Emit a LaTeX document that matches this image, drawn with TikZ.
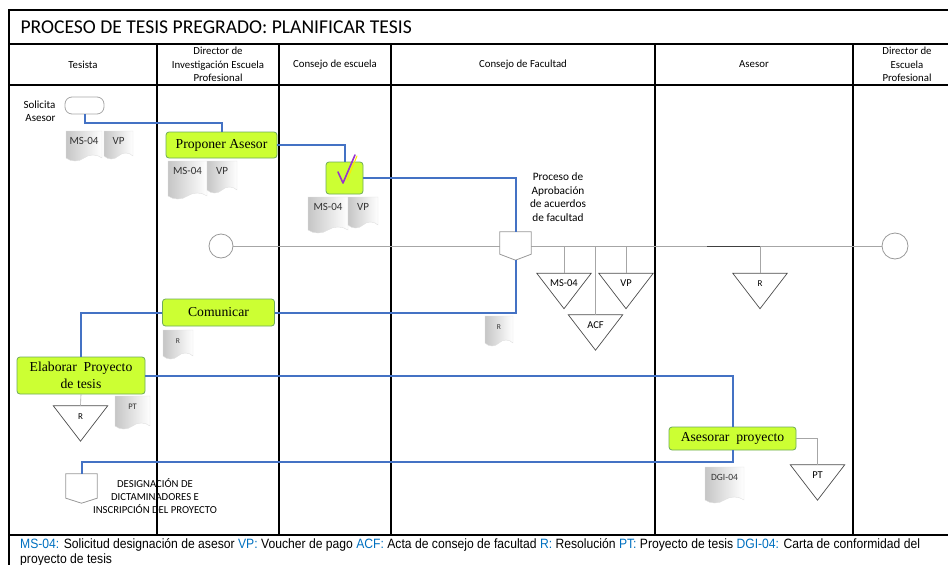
\documentclass[tikz,border=0pt]{standalone}
\usepackage{fontspec}
\setmainfont{Carlito}
\newfontfamily\boxfont{Liberation Serif}
\newfontfamily\notefont[FakeStretch=0.9]{Liberation Sans}
\usetikzlibrary{shapes.symbols,positioning,calc}

\definecolor{flowblue}{RGB}{68,114,196}
\definecolor{actfill}{RGB}{204,255,51}
\definecolor{actline}{RGB}{110,170,90}
\definecolor{codeblue}{RGB}{0,112,192}
\definecolor{checkpurple}{RGB}{153,51,204}

\begin{document}
\begin{tikzpicture}[
    x=1pt, y=-1pt,
    lane/.style={line width=1.4pt, black},
    act/.style={draw=actline, fill=actfill, rounded corners=3pt, line width=0.8pt, inner sep=0pt,
        font=\boxfont\fontsize{13.7}{17}\selectfont, align=center},
    flow/.style={flowblue, line width=2pt},
    thinline/.style={gray!70, line width=0.6pt},
    doc/.style 2 args={shape=tape, tape bend top=none, tape bend height=6pt, draw=gray!25,
        left color=gray!45, right color=white, inner sep=0pt, text=black!80,
        minimum width=#1pt, text height=13pt, text depth={#2pt-13pt},
        font=\fontsize{11}{11}\selectfont},
    tri/.style={minimum width=54pt, minimum height=35pt, inner sep=0pt,
        text height=13pt, text depth=22pt, font=\fontsize{10.5}{11}\selectfont},
    triline/.style={draw=black!70, line width=0.7pt},
    lanehead/.style={font=\fontsize{10.8}{13.5}\selectfont, align=center},
    small/.style={font=\fontsize{11.3}{13.5}\selectfont, align=center}
]
\useasboundingbox (0,0) rectangle (948,565);

% Frame and lanes
\draw[lane] (948,10) -- (9,10) -- (9,565);
\draw[lane] (9,44) -- (948,44);
\draw[lane] (9,85) -- (948,85);
\draw[lane] (9,535) -- (948,535);
\foreach \x in {157,279,391,655,853} {
    \draw[lane] (\x,44) -- (\x,535);
}

% Title
\node[anchor=west, font=\fontsize{19.6}{21}\selectfont] (title) at (17,27) {PROCESO DE TESIS PREGRADO: PLANIFICAR TESIS};

% Lane headers
\node[lanehead] (hTes) at (83,64.5) {Tesista};
\node[lanehead] (hDir) at (218,64.5) {Director de\\Investigación Escuela\\Profesional};
\node[lanehead] (hCes) at (335,64.5) {Consejo de escuela};
\node[lanehead] (hCfa) at (523,64.5) {Consejo de Facultad};
\node[lanehead] (hAse) at (754,64.5) {Asesor};
\node[lanehead] (hDep) at (907,64.5) {Director de\\Escuela\\Profesional};

% Timeline
\node[circle, draw=gray!80, line width=0.8pt, minimum size=24pt, inner sep=0pt] (circL) at (221,246) {};
\node[circle, draw=gray!80, line width=0.8pt, minimum size=26pt, inner sep=0pt] (circR) at (895,246) {};
\draw[thinline] (circL.east) -- (circR.west);

% Start
\node[draw=gray!70, line width=0.8pt, rounded corners=7pt, minimum width=39pt, minimum height=17pt] (start) at (84.5,105.5) {};
\node[small, anchor=east, align=right, font=\fontsize{11}{13}\selectfont] (solicita) at (59,111) {Solicita\\Asesor};

% Activities
\node[act, minimum width=111pt, minimum height=26pt] (prop) at (221.5,145) {Proponer Asesor};
\node[act, minimum width=37pt, minimum height=32pt] (chk) at (344.5,178) {};
\node[act, minimum width=112pt, minimum height=27pt] (comu) at (218.5,312.5) {Comunicar};
\node[act, minimum width=128pt, minimum height=37pt] (elab) at (81,375.5) {Elaborar\ \ Proyecto\\de tesis};
\node[act, minimum width=127pt, minimum height=23pt] (ases) at (732.5,438.5) {Asesorar\ \ proyecto};

% Check mark
\draw[yellow!90!orange, line width=1pt, line cap=round] (347,180) -- (357,156);
\draw[checkpurple, line width=1.6pt, line cap=round, line join=round] (338,172) -- (343,183) -- (355,155);

% Off-page connectors
\node[minimum width=31pt, minimum height=28pt, inner sep=0pt] (offp) at (515.5,246) {};
\draw[gray!80, fill=white, line width=0.8pt] (offp.north west) -- (offp.north east) -- ([yshift=6pt]offp.south east)
    -- (offp.south) -- ([yshift=6pt]offp.south west) -- cycle;
\node[minimum width=31pt, minimum height=29pt, inner sep=0pt] (desig) at (81.5,488.5) {};
\draw[gray!80, fill=white, line width=0.8pt] (desig.north west) -- (desig.north east) -- ([yshift=5pt]desig.south east)
    -- (desig.south) -- ([yshift=5pt]desig.south west) -- cycle;

\node[small] (procTxt) at (558,197) {Proceso de\\Aprobación\\de acuerdos\\de facultad};
\node[font=\fontsize{10.7}{13}\selectfont, align=center] (desigTxt) at (155,496) {DESIGNACIÓN DE\\DICTAMINADORES E\\INSCRIPCIÓN DEL PROYECTO};

% Documents
\node[doc={36}{24}] (dMSa) at (84,143) {MS-04};
\node[doc={29}{22}] (dVPa) at (118.5,142) {VP};
\node[doc={39}{32}] (dMSb) at (187.5,177) {MS-04};
\node[doc={30}{26}] (dVPb) at (222,174) {VP};
\node[doc={40}{30}] (dMSc) at (328,212) {MS-04};
\node[doc={30}{25}] (dVPc) at (363,209.5) {VP};
\node[doc={28}{24}, font=\fontsize{7.5}{8}\selectfont] (dRa) at (499,328) {R};
\node[doc={30}{23}, font=\fontsize{7.5}{8}\selectfont] (dRb) at (178,341.5) {R};
\node[doc={35}{27}, font=\fontsize{8.5}{9}\selectfont] (dPT) at (132.5,409.5) {PT};
\node[doc={39}{30}, font=\fontsize{9.5}{10}\selectfont] (dDGI) at (724.5,482) {DGI-04};

% Archives (triangles)
\node[tri] (trMS) at (564,291) {MS-04};
\node[tri] (trVP) at (626,291) {VP};
\node[tri] (trACF) at (595.5,332.5) {ACF};
\node[tri, font=\fontsize{9}{9}\selectfont] (trRb) at (760,291) {R};
\node[tri, font=\fontsize{9}{9}\selectfont] (trRa) at (80.5,423.5) {R};
\node[tri] (trPT) at (817.5,482.5) {PT};
\foreach \t in {trMS,trVP,trACF,trRb,trRa,trPT} {
    \draw[triline] (\t.north west) -- (\t.north east) -- (\t.south) -- cycle;
}

% Archive links
\foreach \t in {trMS,trVP,trACF} {
    \draw[thinline] (\t.north |- circL.center) -- (\t.north);
}
\coordinate (rsplit) at (707,246);
\draw[black!75, line width=0.7pt] (rsplit) -- (trRb.north |- rsplit);
\draw[thinline] (trRb.north |- rsplit) -- (trRb.north);
\draw[thinline] (elab.south) -- (trRa.north);
\draw[thinline] (ases.east) -| (trPT.north);

% Flow
\draw[flow] (start.south) -- ++(0,9) -| (prop.north);
\draw[flow] (prop.east) -| (chk.north);
\draw[flow] (chk.east) -| (offp.north);
\draw[flow] (offp.south) |- (comu.east);
\draw[flow] (comu.west) -| (elab.north);
\draw[flow] (elab.east) -| (ases.north);
\draw[flow] (ases.south) -- ++(0,12) -| (desig.north);

% Legend
\node[anchor=north west, align=left, inner sep=0pt, font=\notefont\fontsize{13.5}{15}\selectfont] (legend) at (20,538)
    {{\color{codeblue}MS-04:} Solicitud designación de asesor {\color{codeblue}VP:} Voucher de pago {\color{codeblue}ACF:} Acta de consejo de facultad {\color{codeblue}R:} Resolución {\color{codeblue}PT:} Proyecto de tesis {\color{codeblue}DGI-04:} Carta de conformidad del\\proyecto de tesis};

\end{tikzpicture}
\end{document}
